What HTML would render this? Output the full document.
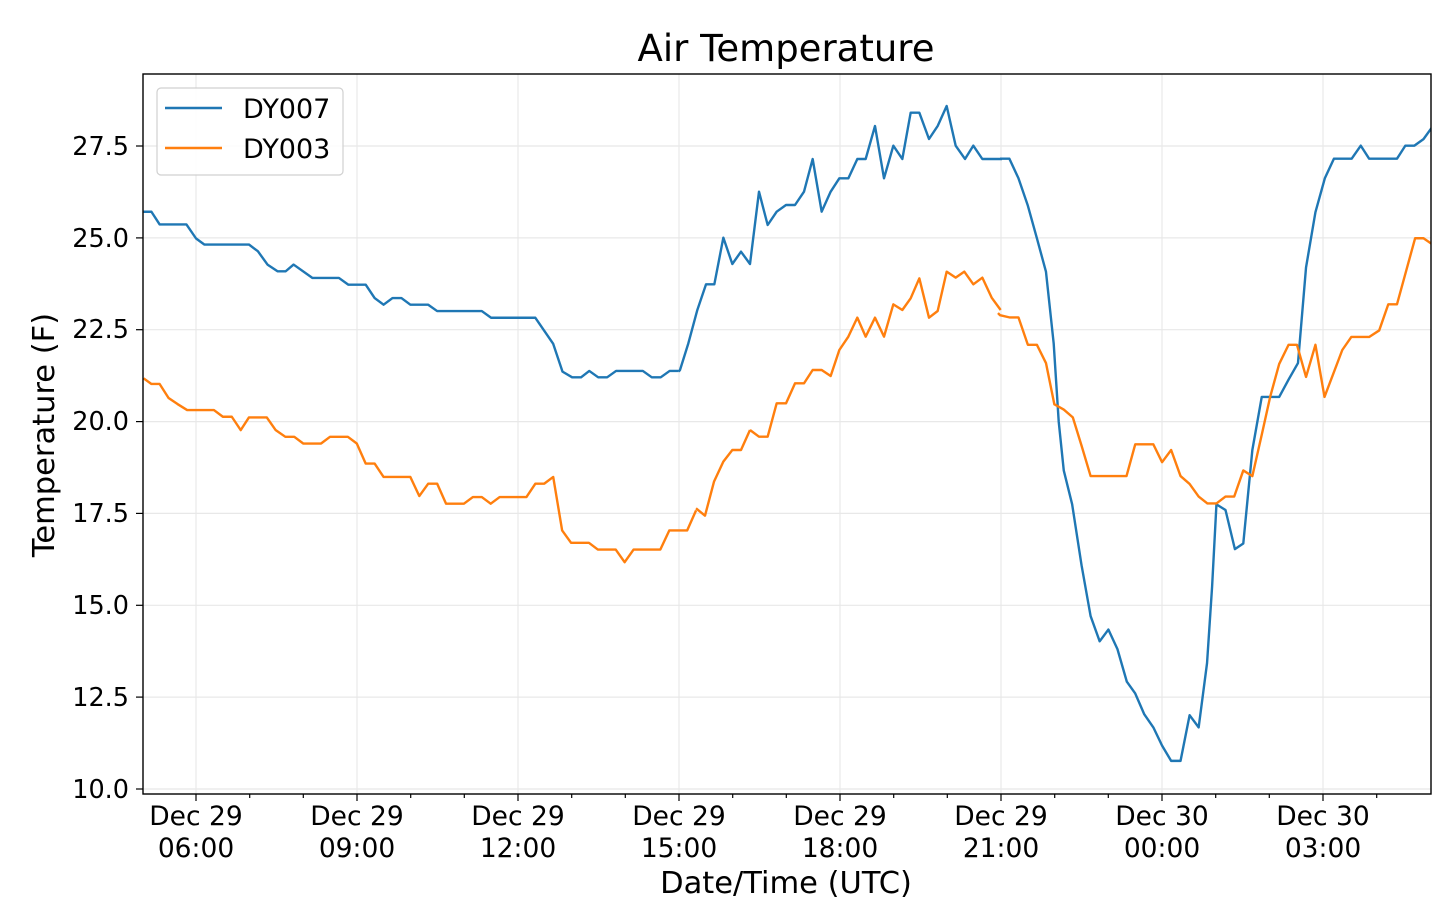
<!DOCTYPE html>
<html><head><meta charset="utf-8"><style>
html,body{margin:0;padding:0;background:#fff;}
svg{display:block;font-family:"DejaVu Sans","Liberation Sans",sans-serif;}
.l{fill:none;stroke-width:2.4;stroke-linejoin:round;vector-effect:non-scaling-stroke;}
.b{stroke:#1f77b4;} .o{stroke:#ff7f0e;}
.g{stroke:#e8e8e8;stroke-width:1.2;}
</style></head><body>
<svg width="1439" height="904" viewBox="0 0 1439 904">
<rect width="1439" height="904" fill="#fff"/>
<g class="g">
<line x1="196" y1="74" x2="196" y2="794"/><line x1="357" y1="74" x2="357" y2="794"/>
<line x1="518" y1="74" x2="518" y2="794"/><line x1="679" y1="74" x2="679" y2="794"/>
<line x1="840" y1="74" x2="840" y2="794"/><line x1="1001" y1="74" x2="1001" y2="794"/>
<line x1="1162" y1="74" x2="1162" y2="794"/><line x1="1323" y1="74" x2="1323" y2="794"/>
<line x1="143" y1="789" x2="1431" y2="789"/><line x1="143" y1="697.1" x2="1431" y2="697.1"/>
<line x1="143" y1="605.3" x2="1431" y2="605.3"/><line x1="143" y1="513.4" x2="1431" y2="513.4"/>
<line x1="143" y1="421.6" x2="1431" y2="421.6"/><line x1="143" y1="329.7" x2="1431" y2="329.7"/>
<line x1="143" y1="237.9" x2="1431" y2="237.9"/><line x1="143" y1="146" x2="1431" y2="146"/>
</g>
<svg x="143" y="74" width="1288" height="720" overflow="hidden">
<g transform="translate(-143,-74)">
<g transform="translate(140,190) scale(0.35714,0.33445)"><polyline class="l b" points="10,65 32,65 55,103 130,103 157,145 180,163 305,163 330,183 357,223 385,243 408,243 430,223 483,263 557,263 583,283 632,283 657,323 682,343 707,323 732,323 757,343 807,343 832,362 957,362 983,382 1107,382 1157,460 1183,543 1210,560 1235,560 1258,541 1283,560 1308,560 1333,541 1408,541 1433,560 1458,560 1483,541 1508,541"/></g>
<g transform="translate(680,90) scale(0.33333,0.33333)"><polyline class="l b" points="-4,845 0,840 25,760 52,660 78,583 103,583 130,443 157,522 183,485 210,522 237,305 263,405 290,365 318,345 345,345 372,305 398,207 425,365 452,305 478,265 505,265 532,207 557,207 585,108 612,265 640,167 667,207 692,68 718,68 747,147 773,108 800,48 827,167 855,207 880,167 907,207 966,207"/></g>
<g transform="translate(1000,100) scale(0.33557,0.43478)"><polyline class="l b" points="0,135 28,135 55,180 83,243 110,318 137,395 160,560 175,740 190,852 215,930 243,1070 270,1187 297,1245 323,1218 350,1263 378,1338 403,1365 430,1413 457,1443 483,1485 510,1520 538,1520 565,1415 592,1443 617,1295 632,1120 645,930 672,943 700,1033 725,1020 752,805 780,683 832,683 860,643 888,605 912,385 940,258 968,180 995,135 1048,135 1075,105 1100,135 1183,135 1208,105 1235,105 1262,90 1290,60 1300,52"/></g>
<g transform="translate(140,190) scale(0.35714,0.33445)"><polyline class="l o" points="10,563 32,580 55,580 80,622 105,640 132,658 207,658 232,678 257,678 282,718 305,680 355,680 380,718 407,738 432,738 457,758 507,758 532,738 582,738 607,758 632,818 657,818 682,858 757,858 782,915 807,878 832,878 857,938 907,938 932,918 957,918 982,938 1007,918 1082,918 1107,878 1132,878 1157,858 1182,1018 1207,1055 1257,1055 1282,1075 1332,1075 1357,1113 1382,1075 1457,1075 1482,1018 1532,1018 1557,958"/></g>
<g transform="translate(660,400) scale(0.33333,0.33333)"><polyline class="l o" points="108,325 135,347 162,245 190,185 217,150 243,150 270,90"/></g>
<g transform="translate(680,90) scale(0.33333,0.33333)"><polyline class="l o" points="210,1020 237,1040 263,1040 290,940 318,940 345,880 372,880 398,840 425,840 452,858 478,780 505,740 532,683 557,740 585,683 612,740 640,643 667,660 692,625 718,565 747,683 773,663 800,545 827,563 853,545 880,583 907,563 935,623 962,660"/></g>
<g transform="translate(1000,100) scale(0.33557,0.43478)"><polyline class="l o" points="-6,490 0,495 28,500 55,500 83,563 110,563 137,605 162,700 190,712 217,730 243,795 270,865 377,865 403,792 457,792 483,833 510,805 538,865 565,883 592,912 618,928 645,928 672,912 698,912 725,852 752,865 780,770 805,683 832,607 860,563 885,563 912,637 940,563 967,683 993,630 1020,575 1047,545 1100,545 1130,530 1157,470 1183,470 1237,318 1262,318 1290,333 1300,338"/></g>
</g>
</svg>
<rect x="143" y="74" width="1288" height="720" fill="none" stroke="#000" stroke-width="1.4"/>
<g stroke="#000" stroke-width="1.2">
<line x1="196" y1="794" x2="196" y2="801"/><line x1="357" y1="794" x2="357" y2="801"/>
<line x1="518" y1="794" x2="518" y2="801"/><line x1="679" y1="794" x2="679" y2="801"/>
<line x1="840" y1="794" x2="840" y2="801"/><line x1="1001" y1="794" x2="1001" y2="801"/>
<line x1="1162" y1="794" x2="1162" y2="801"/><line x1="1323" y1="794" x2="1323" y2="801"/>
<line x1="249.7" y1="794" x2="249.7" y2="798"/><line x1="303.3" y1="794" x2="303.3" y2="798"/>
<line x1="410.7" y1="794" x2="410.7" y2="798"/><line x1="464.3" y1="794" x2="464.3" y2="798"/>
<line x1="571.7" y1="794" x2="571.7" y2="798"/><line x1="625.3" y1="794" x2="625.3" y2="798"/>
<line x1="732.7" y1="794" x2="732.7" y2="798"/><line x1="786.3" y1="794" x2="786.3" y2="798"/>
<line x1="893.7" y1="794" x2="893.7" y2="798"/><line x1="947.3" y1="794" x2="947.3" y2="798"/>
<line x1="1054.7" y1="794" x2="1054.7" y2="798"/><line x1="1108.3" y1="794" x2="1108.3" y2="798"/>
<line x1="1215.7" y1="794" x2="1215.7" y2="798"/><line x1="1269.3" y1="794" x2="1269.3" y2="798"/>
<line x1="1376.7" y1="794" x2="1376.7" y2="798"/>
<line x1="136" y1="789" x2="143" y2="789"/><line x1="136" y1="697.1" x2="143" y2="697.1"/>
<line x1="136" y1="605.3" x2="143" y2="605.3"/><line x1="136" y1="513.4" x2="143" y2="513.4"/>
<line x1="136" y1="421.6" x2="143" y2="421.6"/><line x1="136" y1="329.7" x2="143" y2="329.7"/>
<line x1="136" y1="237.9" x2="143" y2="237.9"/><line x1="136" y1="146" x2="143" y2="146"/>
</g>
<g font-size="25.5" text-anchor="end" fill="#000">
<text x="129" y="798">10.0</text><text x="129" y="706">12.5</text><text x="129" y="614">15.0</text>
<text x="129" y="522">17.5</text><text x="129" y="430">20.0</text><text x="129" y="338">22.5</text>
<text x="129" y="247">25.0</text><text x="129" y="155">27.5</text>
</g>
<g font-size="26.5" text-anchor="middle" fill="#000">
<text x="196" y="825">Dec 29</text><text x="196" y="857">06:00</text>
<text x="357" y="825">Dec 29</text><text x="357" y="857">09:00</text>
<text x="518" y="825">Dec 29</text><text x="518" y="857">12:00</text>
<text x="679" y="825">Dec 29</text><text x="679" y="857">15:00</text>
<text x="840" y="825">Dec 29</text><text x="840" y="857">18:00</text>
<text x="1001" y="825">Dec 29</text><text x="1001" y="857">21:00</text>
<text x="1162" y="825">Dec 30</text><text x="1162" y="857">00:00</text>
<text x="1323" y="825">Dec 30</text><text x="1323" y="857">03:00</text>
<text x="786" y="893" font-size="30.5">Date/Time (UTC)</text>
<text x="786" y="61" font-size="37">Air Temperature</text>
<text transform="translate(54,435) rotate(-90)" font-size="30.5">Temperature (F)</text>
</g>
<rect x="157" y="88" width="186" height="87" rx="4" fill="#fff" fill-opacity="0.85" stroke="#d0d0d0" stroke-width="1.2"/>
<line x1="165" y1="108" x2="222" y2="108" stroke="#1f77b4" stroke-width="2.5"/>
<line x1="165" y1="148" x2="222" y2="148" stroke="#ff7f0e" stroke-width="2.5"/>
<text x="243" y="118" font-size="27">DY007</text>
<text x="243" y="158" font-size="27">DY003</text>
</svg>
</body></html>
